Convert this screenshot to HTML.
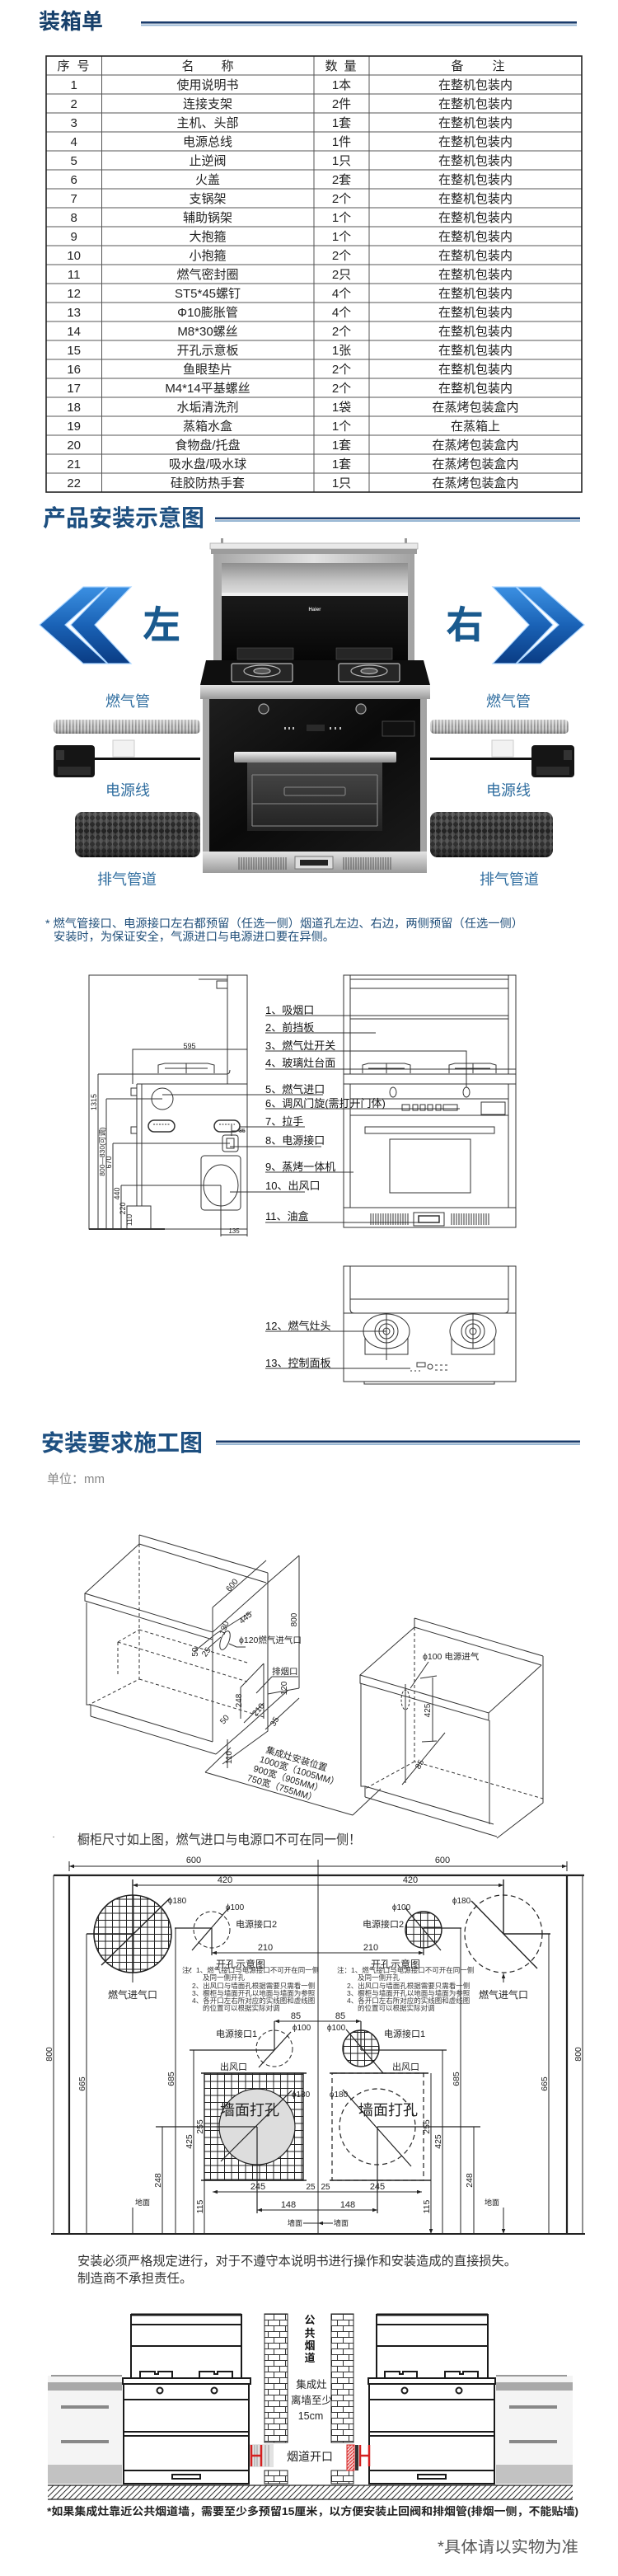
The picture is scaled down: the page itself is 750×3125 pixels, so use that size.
<!DOCTYPE html>
<html><head><meta charset="utf-8">
<style>
html,body{margin:0;padding:0;background:#fff;}
svg{display:block;}
text{font-family:"Liberation Sans","Noto Sans CJK SC",sans-serif;}
</style></head>
<body>
<svg width="750" height="3125" viewBox="0 0 750 3125" xmlns="http://www.w3.org/2000/svg">
<defs>
<marker id="ar" viewBox="0 0 8 6" refX="8" refY="3" markerWidth="6" markerHeight="4.5" markerUnits="userSpaceOnUse" orient="auto-start-reverse"><path d="M0,0L8,3L0,6z" fill="#222"/></marker>
<pattern id="grid" width="8.5" height="8.5" patternUnits="userSpaceOnUse"><rect width="8.5" height="8.5" fill="#fff"/><path d="M0 0.5H8.5M0.5 0V8.5" stroke="#222" stroke-width="1"/></pattern>
<pattern id="brick" width="14" height="14" patternUnits="userSpaceOnUse"><rect width="14" height="14" fill="#fff"/><path d="M0 0.5H14M0 7.5H14M3.5 0V7M10.5 7V14" stroke="#333" stroke-width="1"/></pattern>
<pattern id="diag" width="7" height="7" patternUnits="userSpaceOnUse"><rect width="7" height="7" fill="#fff"/><path d="M0 7L7 0M-1 1L1 -1M6 8L8 6" stroke="#333" stroke-width="1"/></pattern>
<pattern id="redh" width="4" height="4" patternUnits="userSpaceOnUse"><rect width="4" height="4" fill="#f4d0d0"/><path d="M0 4L4 0" stroke="#d22" stroke-width="1"/></pattern>
<pattern id="corr" width="4" height="20" patternUnits="userSpaceOnUse"><rect width="4" height="20" fill="#d2d2d2"/><rect width="1.6" height="20" fill="#8c8c8c"/></pattern>
<pattern id="duct" width="7" height="8" patternUnits="userSpaceOnUse"><rect width="7" height="8" fill="#161616"/><path d="M0 4L3.5 0L7 4L3.5 8Z" fill="#3c3c3c"/><path d="M3.5 0V8" stroke="#555" stroke-width="0.8"/></pattern>
<linearGradient id="cyl" x1="0" y1="0" x2="0" y2="1"><stop offset="0" stop-color="#fff" stop-opacity="0.15"/><stop offset="0.45" stop-color="#fff" stop-opacity="0.05"/><stop offset="1" stop-color="#000" stop-opacity="0.45"/></linearGradient>
<linearGradient id="cyl2" x1="0" y1="0" x2="0" y2="1"><stop offset="0" stop-color="#fff" stop-opacity="0.4"/><stop offset="0.5" stop-color="#fff" stop-opacity="0"/><stop offset="1" stop-color="#000" stop-opacity="0.3"/></linearGradient>
<linearGradient id="chev" x1="0" y1="0" x2="0" y2="1"><stop offset="0" stop-color="#3b90e2"/><stop offset="0.5" stop-color="#1a62b6"/><stop offset="1" stop-color="#0a3c84"/></linearGradient>
<linearGradient id="gSilver" x1="0" y1="0" x2="1" y2="0"><stop offset="0" stop-color="#a6a6a6"/><stop offset="0.5" stop-color="#e2e2e2"/><stop offset="1" stop-color="#a2a2a2"/></linearGradient>
<linearGradient id="gHood" x1="0" y1="0" x2="0" y2="1"><stop offset="0" stop-color="#8e8e8e"/><stop offset="0.6" stop-color="#c4c4c4"/><stop offset="1" stop-color="#dcdcdc"/></linearGradient>
<linearGradient id="gBlack" x1="0" y1="0" x2="0" y2="1"><stop offset="0" stop-color="#1a1a1a"/><stop offset="1" stop-color="#060606"/></linearGradient>
<linearGradient id="gApron" x1="0" y1="0" x2="0" y2="1"><stop offset="0" stop-color="#e4e4e4"/><stop offset="1" stop-color="#9a9a9a"/></linearGradient>
<linearGradient id="gDoor" x1="0" y1="0" x2="1" y2="1"><stop offset="0" stop-color="#1e1e1e"/><stop offset="0.5" stop-color="#0a0a0a"/><stop offset="1" stop-color="#1a1a1a"/></linearGradient>
<linearGradient id="gHandle" x1="0" y1="0" x2="0" y2="1"><stop offset="0" stop-color="#f2f2f2"/><stop offset="1" stop-color="#8d8d8d"/></linearGradient>
<linearGradient id="gWin" x1="0" y1="0" x2="0" y2="1"><stop offset="0" stop-color="#4a4a4a"/><stop offset="1" stop-color="#222"/></linearGradient>
</defs>

<!-- ============ 装箱单 ============ -->
<text x="47" y="35" font-size="26" font-weight="bold" fill="#17406b">装箱单</text>
<rect x="171" y="26" width="529" height="2.6" fill="#1a3c6c"/>
<rect x="171" y="29.6" width="529" height="1.8" fill="#8fb0d0"/>

<g stroke="#555" stroke-width="1" fill="none">
<path d="M56 91H706M56 114H706M56 137H706M56 160H706M56 183H706M56 206H706M56 229H706M56 252H706M56 275H706M56 298H706M56 321H706M56 344H706M56 367H706M56 390H706M56 413H706M56 436H706M56 459H706M56 482H706M56 505H706M56 528H706M56 551H706M56 574H706"/>
<path d="M123.5 68V597M381 68V597M448 68V597"/>
</g>
<rect x="56" y="68" width="650" height="529" fill="none" stroke="#222" stroke-width="1.6"/>

<g font-size="15" fill="#222" text-anchor="middle">
<text x="77" y="85">序</text><text x="101" y="85">号</text>
<text x="228" y="85">名</text><text x="276" y="85">称</text>
<text x="402" y="85">数</text><text x="425" y="85">量</text>
<text x="555" y="85">备</text><text x="605" y="85">注</text>

<text x="89.7" y="108">1</text><text x="252" y="108">使用说明书</text><text x="414.5" y="108">1本</text><text x="577" y="108">在整机包装内</text>
<text x="89.7" y="131">2</text><text x="252" y="131">连接支架</text><text x="414.5" y="131">2件</text><text x="577" y="131">在整机包装内</text>
<text x="89.7" y="154">3</text><text x="252" y="154">主机、头部</text><text x="414.5" y="154">1套</text><text x="577" y="154">在整机包装内</text>
<text x="89.7" y="177">4</text><text x="252" y="177">电源总线</text><text x="414.5" y="177">1件</text><text x="577" y="177">在整机包装内</text>
<text x="89.7" y="200">5</text><text x="252" y="200">止逆阀</text><text x="414.5" y="200">1只</text><text x="577" y="200">在整机包装内</text>
<text x="89.7" y="223">6</text><text x="252" y="223">火盖</text><text x="414.5" y="223">2套</text><text x="577" y="223">在整机包装内</text>
<text x="89.7" y="246">7</text><text x="252" y="246">支锅架</text><text x="414.5" y="246">2个</text><text x="577" y="246">在整机包装内</text>
<text x="89.7" y="269">8</text><text x="252" y="269">辅助锅架</text><text x="414.5" y="269">1个</text><text x="577" y="269">在整机包装内</text>
<text x="89.7" y="292">9</text><text x="252" y="292">大抱箍</text><text x="414.5" y="292">1个</text><text x="577" y="292">在整机包装内</text>
<text x="89.7" y="315">10</text><text x="252" y="315">小抱箍</text><text x="414.5" y="315">2个</text><text x="577" y="315">在整机包装内</text>
<text x="89.7" y="338">11</text><text x="252" y="338">燃气密封圈</text><text x="414.5" y="338">2只</text><text x="577" y="338">在整机包装内</text>
<text x="89.7" y="361">12</text><text x="252" y="361">ST5*45螺钉</text><text x="414.5" y="361">4个</text><text x="577" y="361">在整机包装内</text>
<text x="89.7" y="384">13</text><text x="252" y="384">Φ10膨胀管</text><text x="414.5" y="384">4个</text><text x="577" y="384">在整机包装内</text>
<text x="89.7" y="407">14</text><text x="252" y="407">M8*30螺丝</text><text x="414.5" y="407">2个</text><text x="577" y="407">在整机包装内</text>
<text x="89.7" y="430">15</text><text x="252" y="430">开孔示意板</text><text x="414.5" y="430">1张</text><text x="577" y="430">在整机包装内</text>
<text x="89.7" y="453">16</text><text x="252" y="453">鱼眼垫片</text><text x="414.5" y="453">2个</text><text x="577" y="453">在整机包装内</text>
<text x="89.7" y="476">17</text><text x="252" y="476">M4*14平基螺丝</text><text x="414.5" y="476">2个</text><text x="577" y="476">在整机包装内</text>
<text x="89.7" y="499">18</text><text x="252" y="499">水垢清洗剂</text><text x="414.5" y="499">1袋</text><text x="577" y="499">在蒸烤包装盒内</text>
<text x="89.7" y="522">19</text><text x="252" y="522">蒸箱水盒</text><text x="414.5" y="522">1个</text><text x="577" y="522">在蒸箱上</text>
<text x="89.7" y="545">20</text><text x="252" y="545">食物盘/托盘</text><text x="414.5" y="545">1套</text><text x="577" y="545">在蒸烤包装盒内</text>
<text x="89.7" y="568">21</text><text x="252" y="568">吸水盘/吸水球</text><text x="414.5" y="568">1套</text><text x="577" y="568">在蒸烤包装盒内</text>
<text x="89.7" y="591">22</text><text x="252" y="591">硅胶防热手套</text><text x="414.5" y="591">1只</text><text x="577" y="591">在蒸烤包装盒内</text>
</g>

<!-- ============ 产品安装示意图 ============ -->
<text x="52" y="638" font-size="28" font-weight="bold" fill="#1d4f80">产品安装示意图</text>
<rect x="261" y="627.5" width="443" height="2.6" fill="#1a3c6c"/>
<rect x="261" y="631.1" width="443" height="1.8" fill="#8fb0d0"/>

<!-- chevrons left -->
<g stroke="#a8d4ff" stroke-width="1.2" fill="url(#chev)">
<polygon points="48,758 101,712 130,712 79,758 130,805 101,805"/>
<polygon points="86,758 131,712 159,712 115,758 159,805 131,805"/>
</g>
<g transform="translate(757,0) scale(-1,1)" stroke="#a8d4ff" stroke-width="1.2" fill="url(#chev)">
<polygon points="48,758 101,712 130,712 79,758 130,805 101,805"/>
<polygon points="86,758 131,712 159,712 115,758 159,805 131,805"/>
</g>
<text x="196" y="774" font-size="46" font-weight="bold" fill="#1a5a8e" text-anchor="middle">左</text>
<text x="564" y="774" font-size="46" font-weight="bold" fill="#1a5a8e" text-anchor="middle">右</text>

<!-- stove -->
<rect x="268" y="653" width="3" height="8" fill="#999"/>
<rect x="491" y="653" width="3" height="8" fill="#999"/>
<rect x="255" y="659" width="252" height="7" fill="#e9e9e9" stroke="#aaa" stroke-width="0.8"/>
<rect x="256" y="666" width="250" height="6" fill="#9c9c9c"/>
<rect x="259" y="672" width="244" height="129" fill="url(#gSilver)"/>
<rect x="269" y="683" width="226" height="36" fill="url(#gHood)"/>
<rect x="269" y="719" width="226" height="4" fill="#f0f0f0"/>
<rect x="269" y="723" width="226" height="78" fill="url(#gBlack)"/>
<text x="382" y="741" font-size="6" font-weight="bold" fill="#ddd" text-anchor="middle">Haier</text>
<rect x="288" y="786" width="68" height="14" fill="#262626" stroke="#555" stroke-width="0.6"/>
<rect x="408" y="786" width="68" height="14" fill="#262626" stroke="#555" stroke-width="0.6"/>
<polygon points="250,801 514,801 522,831 243,831" fill="#0f0f0f"/>
<rect x="243" y="831" width="279" height="17" fill="url(#gApron)"/>
<g stroke="#bbb" stroke-width="1.2" fill="#262626">
<rect x="281" y="805" width="74" height="22" rx="2"/>
<rect x="411" y="805" width="74" height="22" rx="2"/>
<ellipse cx="318" cy="814" rx="22" ry="7"/>
<ellipse cx="448" cy="814" rx="22" ry="7"/>
<ellipse cx="318" cy="814" rx="10" ry="3.5" fill="#555"/>
<ellipse cx="448" cy="814" rx="10" ry="3.5" fill="#555"/>
</g>
<rect x="246" y="848" width="272" height="211" fill="url(#gSilver)"/>
<rect x="254" y="848" width="256" height="185" fill="url(#gDoor)"/>
<circle cx="320" cy="860" r="6" fill="#333" stroke="#aaa" stroke-width="1.2"/>
<circle cx="438" cy="860" r="6" fill="#333" stroke="#aaa" stroke-width="1.2"/>
<g fill="#bbb">
<rect x="345" y="882" width="2" height="3"/><rect x="350" y="882" width="2" height="3"/><rect x="355" y="882" width="2" height="3"/>
<rect x="372" y="879" width="22" height="8" fill="#2a2a2a"/>
<rect x="400" y="882" width="2" height="3"/><rect x="406" y="882" width="2" height="3"/><rect x="412" y="882" width="2" height="3"/>
</g>
<rect x="464" y="875" width="39" height="18" fill="#111" stroke="#555" stroke-width="0.8"/>
<rect x="284" y="912" width="197" height="13" rx="2" fill="url(#gHandle)"/>
<rect x="300" y="925" width="164" height="83" fill="url(#gWin)"/>
<g stroke="#7a7a7a" stroke-width="1.3" fill="none">
<path d="M306 940H458M306 975H458M306 1002H458M306 940V1002M458 940V1002"/>
<rect x="345" y="955" width="74" height="10" rx="2"/>
</g>
<rect x="246" y="1033" width="272" height="26" fill="url(#gApron)"/>
<g stroke="#555" stroke-width="1">
<path d="M290 1040V1055M293 1040V1055M296 1040V1055M299 1040V1055M302 1040V1055M305 1040V1055M308 1040V1055M311 1040V1055M314 1040V1055M317 1040V1055M320 1040V1055M323 1040V1055M326 1040V1055M329 1040V1055M332 1040V1055M335 1040V1055M338 1040V1055M341 1040V1055M344 1040V1055M347 1040V1055"/>
<path d="M417 1040V1055M420 1040V1055M423 1040V1055M426 1040V1055M429 1040V1055M432 1040V1055M435 1040V1055M438 1040V1055M441 1040V1055M444 1040V1055M447 1040V1055M450 1040V1055M453 1040V1055M456 1040V1055M459 1040V1055M462 1040V1055M465 1040V1055M468 1040V1055M471 1040V1055M474 1040V1055"/>
</g>
<rect x="358" y="1039" width="46" height="15" fill="#ddd" stroke="#777"/>
<rect x="364" y="1043" width="34" height="7" fill="#222"/>

<!-- labels & accessories -->
<g font-size="18" fill="#2f6d9f" text-anchor="middle">
<text x="155" y="857">燃气管</text><text x="617" y="857">燃气管</text>
<text x="155" y="965">电源线</text><text x="617" y="965">电源线</text>
<text x="154" y="1073">排气管道</text><text x="618" y="1073">排气管道</text>
</g>
<rect x="65" y="873" width="178" height="17" rx="5" fill="url(#corr)"/>
<rect x="65" y="873" width="178" height="17" rx="5" fill="url(#cyl2)"/>
<rect x="522" y="873" width="168" height="17" rx="5" fill="url(#corr)"/>
<rect x="522" y="873" width="168" height="17" rx="5" fill="url(#cyl2)"/>
<rect x="137" y="898" width="26" height="20" fill="#f2f2f2" stroke="#ccc"/>
<rect x="597" y="898" width="26" height="20" fill="#f2f2f2" stroke="#ccc"/>
<rect x="113" y="919" width="130" height="3" fill="#111"/>
<rect x="522" y="919" width="125" height="3" fill="#111"/>
<rect x="65" y="904" width="50" height="39" rx="4" fill="#151515"/>
<rect x="70" y="930" width="40" height="10" fill="#2c2c2c"/>
<rect x="68" y="910" width="10" height="12" fill="#333"/>
<rect x="645" y="904" width="52" height="39" rx="4" fill="#151515"/>
<rect x="651" y="930" width="40" height="10" fill="#2c2c2c"/>
<rect x="684" y="910" width="10" height="12" fill="#333"/>
<rect x="91" y="985" width="152" height="55" rx="9" fill="url(#duct)"/>
<rect x="91" y="985" width="152" height="55" rx="9" fill="url(#cyl)"/>
<rect x="522" y="985" width="149" height="55" rx="9" fill="url(#duct)"/>
<rect x="522" y="985" width="149" height="55" rx="9" fill="url(#cyl)"/>

<text x="55" y="1125" font-size="14" fill="#1f4e79" textLength="580" lengthAdjust="spacingAndGlyphs">* 燃气管接口、电源接口左右都预留（任选一侧）烟道孔左边、右边，两侧预留（任选一侧）</text>
<text x="65" y="1141" font-size="14" fill="#1f4e79" textLength="341" lengthAdjust="spacingAndGlyphs">安装时，为保证安全，气源进口与电源进口要在异侧。</text>

<!-- ============ technical drawing ============ -->
<g fill="none" stroke="#333" stroke-width="1">
<!-- left side view -->
<rect x="108" y="1183" width="192" height="308"/>
<path d="M276 1183V1315M241 1188H276"/>
<rect x="263" y="1190" width="13" height="9"/>
<path d="M161 1315V1273H300"/>
<path d="M192 1302V1292L200 1290H252L260 1292V1302M200 1296H252M226 1290V1302"/>
<path d="M119 1303H275Q279 1303 279 1298"/>
<path d="M166 1315H300M166 1315V1463M172 1315V1463"/>
<rect x="159" y="1320" width="7" height="9"/>
<rect x="159" y="1367" width="7" height="8"/>
<circle cx="197" cy="1333" r="13"/>
<rect x="180" y="1359" width="32" height="14" rx="7" stroke-width="1.5"/>
<rect x="260" y="1359" width="31" height="14" rx="7" stroke-width="1.5"/>
<path d="M186 1364H206M266 1364H285" stroke-dasharray="2 1.5"/>
<rect x="270" y="1377" width="19" height="20" rx="3"/>
<rect x="275" y="1381" width="9" height="12"/>
<rect x="244" y="1402" width="48" height="66" rx="4"/>
<ellipse cx="268" cy="1438" rx="21" ry="25"/>
<path d="M154 1491V1463H183V1491"/>
<path d="M108 1491H200" stroke-width="2"/>
<path d="M119 1303V1491M129 1333V1491M137 1387V1491M147 1438V1491M129 1333H197M137 1387H279M147 1438H268M268 1438V1500M300 1491V1500M268 1498H300M281 1365V1378M281 1372H297"/>
<!-- labels leader lines -->
<path d="M322 1232H456M322 1253H456M322 1275H566V1319M322 1297H433M197 1328H392M322 1345H558M291 1367H370M279 1391H390M322 1422H429M279 1446H370M322 1483H514"/>
<!-- right front view -->
<rect x="417" y="1183" width="209" height="306"/>
<path d="M425 1183V1303M617 1183V1303M425 1315V1465M617 1315V1465"/>
<path d="M425 1188H617M425 1199H617M425 1232H617M425 1236H617M417 1297H626M417 1303H626M417 1315H626M425 1333H617M425 1353H617M417 1465H626"/>
<path d="M440 1302V1292L447 1290H491L498 1292V1302M447 1296H491M469 1290V1302"/>
<path d="M545 1302V1292L552 1290H595L602 1292V1302M552 1296H595M574 1290V1302"/>
<ellipse cx="477" cy="1325" rx="4" ry="6"/>
<ellipse cx="566" cy="1325" rx="4" ry="6"/>
<path d="M488 1340h9v7h-9zM501 1340h6v7h-6zM510 1340h6v7h-6zM519 1340h6v7h-6zM529 1340h6v7h-6zM538 1340h17v7h-17z"/>
<rect x="584" y="1337" width="29" height="15"/>
<rect x="443" y="1367" width="157" height="8"/>
<rect x="473" y="1382" width="98" height="65"/>
<path d="M450 1472V1486M453 1472V1486M456 1472V1486M459 1472V1486M462 1472V1486M465 1472V1486M468 1472V1486M471 1472V1486M474 1472V1486M477 1472V1486M480 1472V1486M483 1472V1486M486 1472V1486M489 1472V1486M492 1472V1486M495 1472V1486"/>
<path d="M548 1472V1486M551 1472V1486M554 1472V1486M557 1472V1486M560 1472V1486M563 1472V1486M566 1472V1486M569 1472V1486M572 1472V1486M575 1472V1486M578 1472V1486M581 1472V1486M584 1472V1486M587 1472V1486M590 1472V1486M593 1472V1486"/>
<rect x="502" y="1471" width="37" height="16"/>
<rect x="508" y="1475" width="25" height="8" stroke-width="1.5"/>
<!-- top view -->
<rect x="417" y="1536" width="209" height="140"/>
<path d="M425 1536V1588Q425 1593 430 1593M617 1536V1588Q617 1593 612 1593M425 1576H617M417 1593H626"/>
<rect x="443" y="1612" width="52" height="31"/>
<rect x="548" y="1612" width="52" height="31"/>
<ellipse cx="469" cy="1615" rx="28" ry="21" fill="#fff"/>
<ellipse cx="574" cy="1615" rx="28" ry="21" fill="#fff"/>
<circle cx="469" cy="1615" r="14"/><circle cx="574" cy="1615" r="14"/>
<circle cx="469" cy="1615" r="9"/><circle cx="574" cy="1615" r="9"/>
<circle cx="469" cy="1615" r="4"/><circle cx="574" cy="1615" r="4"/>
<path d="M469 1594V1650M574 1594V1636"/>
<rect x="506" y="1653" width="10" height="5"/>
<circle cx="522" cy="1658" r="3"/>
<path d="M498 1663h2M503 1663h2M508 1663h2M528 1656h3M534 1656h3M540 1656h3M528 1662h3M534 1662h3M540 1662h3"/>
<rect x="442" y="1676" width="158" height="3"/>
<path d="M322 1615H469M322 1660H498"/>
</g>
<g font-size="9" fill="#222">
<text x="230" y="1272" text-anchor="middle">595</text>
<text x="284" y="1496" font-size="8" text-anchor="middle">135</text>
<text x="290" y="1374" font-size="7">85</text>
<text transform="translate(117,1337) rotate(-90)" text-anchor="middle">1315</text>
<text transform="translate(127,1397) rotate(-90)" text-anchor="middle" font-size="8.5">800—830(可调)</text>
<text transform="translate(135,1410) rotate(-90)" text-anchor="middle">670</text>
<text transform="translate(145,1448) rotate(-90)" text-anchor="middle">440</text>
<text transform="translate(152,1466) rotate(-90)" text-anchor="middle">220</text>
<text transform="translate(160,1480) rotate(-90)" text-anchor="middle">110</text>
</g>
<g font-size="13" fill="#111">
<text x="322" y="1230">1、吸烟口</text>
<text x="322" y="1251">2、前挡板</text>
<text x="322" y="1273">3、燃气灶开关</text>
<text x="322" y="1294">4、玻璃灶台面</text>
<text x="322" y="1326">5、燃气进口</text>
<text x="322" y="1343">6、调风门旋(需打开门体)</text>
<text x="322" y="1365">7、拉手</text>
<text x="322" y="1388">8、电源接口</text>
<text x="322" y="1420">9、蒸烤一体机</text>
<text x="322" y="1443">10、出风口</text>
<text x="322" y="1480">11、油盒</text>
<text x="322" y="1613">12、燃气灶头</text>
<text x="322" y="1658">13、控制面板</text>
</g>

<!-- ============ 安装要求施工图 ============ -->
<text x="50" y="1760" font-size="28" font-weight="bold" fill="#1d4f80">安装要求施工图</text>
<rect x="262" y="1747.5" width="442" height="2.6" fill="#1a3c6c"/>
<rect x="262" y="1751.1" width="442" height="1.8" fill="#8fb0d0"/>
<text x="57" y="1799" font-size="15" fill="#888">单位：mm</text>

<!-- iso left cabinet -->
<g fill="none" stroke="#333" stroke-width="1">
<path d="M169 1862L325 1908M169 1873L323 1920M169 1862V1873M325 1908V1920"/>
<path d="M169 1873L103 1933L258 1980L325 1920M103 1933V1942L258 1989V1980"/>
<path d="M105 1944V2068H110V2082M110 2068L258 2113M110 2082L262 2128M258 1989V2113M325 1920V2100L270 2140"/>
<path d="M169 1873V2037L108 2068M169 2037L320 2083M143 1992L169 1977M143 1992V2033M143 1992L300 2040M169 1977L300 2017" stroke-dasharray="4 3"/>
<path d="M292 2047L320 2018M292 2047V2085M320 2018V2085M296 2090L320 2066"/>
<path d="M258 1950L323 1893M258 1950V1989M262 1982L305 1955M363 1887V2048M325 1920L363 1887M325 2055L363 2048M235 2004L262 1982M252 2000L268 1986"/>
<path d="M300 2095L350 2050M322 2098L363 2060M262 2128L300 2095M249 2150L428 2202M249 2150L280 2120M428 2202L462 2170M276 2110V2145"/>
<ellipse cx="273" cy="1990" rx="5" ry="12" transform="rotate(20 273 1990)"/>
<path d="M278 1994L287 1998H298M330 2034H362M330 2034L311 2054"/>
</g>
<g font-size="10" fill="#222">
<text transform="translate(284,1925) rotate(-50)" text-anchor="middle">600</text>
<text transform="translate(300,1965) rotate(-40)" text-anchor="middle">445</text>
<text transform="translate(360,1965) rotate(-90)" text-anchor="middle">800</text>
<text transform="translate(275,1976) rotate(-70)" text-anchor="middle">130</text>
<text x="290" y="1993" font-size="10.5">ϕ120燃气进气口</text>
<text transform="translate(240,2004) rotate(-90)" text-anchor="middle">50</text>
<text transform="translate(253,2006) rotate(-55)" text-anchor="middle">25</text>
<text x="330" y="2031" font-size="10.5">排烟口</text>
<text transform="translate(293,2063) rotate(-90)" text-anchor="middle">248</text>
<text transform="translate(316,2076) rotate(-50)" text-anchor="middle">210</text>
<text transform="translate(348,2048) rotate(-90)" text-anchor="middle">120</text>
<text transform="translate(275,2088) rotate(-50)" text-anchor="middle">50</text>
<text transform="translate(336,2090) rotate(-60)" text-anchor="middle">35</text>
<text transform="translate(281,2132) rotate(-90)" text-anchor="middle">110</text>
<g transform="translate(322,2126) rotate(17)" font-size="11">
<text x="0" y="0">集成灶安装位置</text>
<text x="-4" y="13">1000宽（1005MM）</text>
<text x="-8" y="26">900宽（905MM）</text>
<text x="-12" y="39">750宽（755MM）</text>
</g>
</g>

<!-- iso right cabinet -->
<g fill="none" stroke="#333" stroke-width="1">
<path d="M503 1963L659 2009M503 1974L657 2020M503 1963V1974M659 2009V2020"/>
<path d="M503 1974L437 2032L593 2078L657 2020M437 2032V2042L593 2087V2078"/>
<path d="M438 2042V2167H443V2180M443 2167L599 2213M443 2180L603 2228M594 2087V2213M659 2020V2187L603 2230"/>
<path d="M503 1974V2137L659 2182M503 2137L443 2170" stroke-dasharray="4 3"/>
<path d="M525 2035V2113M510 2036L530 2033M512 2113L530 2112M488 2165L540 2102M492 2043V2163M520 2016L498 2048"/>
<ellipse cx="492" cy="2062" rx="5" ry="12" stroke-dasharray="3 2"/>
</g>
<g font-size="10" fill="#222">
<text x="513" y="2013" font-size="10.5">ϕ100 电源进气</text>
<text transform="translate(522,2075) rotate(-90)" text-anchor="middle">425</text>
<text transform="translate(512,2142) rotate(-60)" text-anchor="middle">85</text>
</g>

<text x="94" y="2237" font-size="16" fill="#333" textLength="344" lengthAdjust="spacingAndGlyphs">橱柜尺寸如上图，燃气进口与电源口不可在同一侧！</text>

<!-- ============ cabinet hole layout ============ -->
<g fill="none" stroke="#222" stroke-width="1">
<path d="M84 2264H386M386 2264H688" marker-start="url(#ar)" marker-end="url(#ar)"/>
<path d="M84 2258V2270M688 2258V2270"/>
<path d="M65 2275H709" stroke-width="2.2"/>
<path d="M84 2275V2710M688 2275V2710" stroke-width="2.2"/>
<path d="M386 2256V2710"/>
<path d="M62 2710H710" stroke-width="2"/>
<path d="M65 2228V2229"/>
<!-- outer verticals -->
<path d="M65 2275V2710M707 2275V2710M105 2346V2710M666 2346V2710M197 2580V2710M575 2580V2710M213 2339V2710M559 2339V2710M235 2487V2710M537 2487V2710M248 2645V2710M523 2645V2710" marker-end="url(#ar)"/>
<path d="M248 2515V2645M523 2515V2645"/>
<!-- 420 / 210 / 85 / 245 / 148 dims -->
<path d="M161 2287H386M386 2287H611" marker-start="url(#ar)" marker-end="url(#ar)"/>
<path d="M257 2369H386M386 2369H514" marker-start="url(#ar)" marker-end="url(#ar)"/>
<path d="M333 2452H386M386 2452H438" marker-start="url(#ar)" marker-end="url(#ar)"/>
<path d="M258 2659H368M368 2659H386M386 2659H403M403 2659H512" marker-start="url(#ar)" marker-end="url(#ar)"/>
<path d="M312 2681H386M386 2681H458" marker-start="url(#ar)" marker-end="url(#ar)"/>
<path d="M368 2697H386M404 2697H386" marker-end="url(#ar)"/>
<path d="M161 2678V2710M611 2678V2710" marker-end="url(#ar)"/>
<path d="M161 2405V2394M611 2405V2394" marker-end="url(#ar)"/>
<!-- left top -->
<circle cx="161" cy="2346" r="47" fill="url(#grid)" stroke-width="1.6"/>
<path d="M161 2280V2394M105 2346H161M123 2384L206 2303" stroke-width="1.4"/>
<circle cx="257" cy="2341" r="22" stroke-dasharray="5 3"/>
<path d="M212 2339H257M257 2339V2372M233 2366L278 2314" stroke-width="1.2"/>
<!-- right top -->
<circle cx="611" cy="2346" r="47" stroke-dasharray="6 4" stroke-width="1.2"/>
<path d="M611 2280V2346M611 2346H668M572 2306L652 2388" stroke-width="1.4"/>
<circle cx="514" cy="2341" r="22" fill="url(#grid)" stroke-width="1.4"/>
<path d="M514 2339H560M514 2339V2372M492 2315L535 2366" stroke-width="1.2"/>
<!-- lower circles -->
<circle cx="333" cy="2485" r="22" stroke-dasharray="5 3"/>
<path d="M230 2487H333M333 2452V2487M314 2508L353 2465" stroke-width="1.2"/>
<circle cx="438" cy="2485" r="22" fill="url(#grid)" stroke-width="1.4"/>
<path d="M438 2487H542M438 2452V2487M420 2462L465 2515" stroke-width="1.2"/>
<!-- outlets -->
<rect x="248" y="2515" width="120" height="130" fill="url(#grid)" stroke-width="1.4"/>
<circle cx="312" cy="2580" r="46" fill="#ddd" stroke-width="1.2"/>
<path d="M268 2622L354 2536M312 2580V2685M189 2580H312" stroke-width="1.2"/>
<path d="M244 2515H372M244 2645H372" stroke-width="1.6"/>
<rect x="403" y="2515" width="111" height="130" stroke-dasharray="6 4" stroke-width="1.2"/>
<circle cx="458" cy="2580" r="46" stroke-dasharray="6 4" stroke-width="1.2"/>
<path d="M416 2535L499 2628M458 2580V2685M458 2580H583" stroke-width="1.2"/>
<path d="M400 2515H520M400 2645H523" stroke-width="1.4"/>
<path d="M229 2392L232 2387M256 2396V2396"/>
</g>
<g font-size="11" fill="#222" text-anchor="middle">
<text x="235" y="2260">600</text><text x="537" y="2260">600</text>
<text x="273" y="2284">420</text><text x="498" y="2284">420</text>
<text x="322" y="2366">210</text><text x="450" y="2366">210</text>
<text x="359" y="2449">85</text><text x="413" y="2449">85</text>
<text x="313" y="2656">245</text><text x="377" y="2656" font-size="10">25</text><text x="395" y="2656" font-size="10">25</text><text x="458" y="2656">245</text>
<text x="350" y="2678">148</text><text x="422" y="2678">148</text>
<text x="215" y="2309" font-size="10">ϕ180</text>
<text x="285" y="2317" font-size="10">ϕ100</text>
<text x="487" y="2317" font-size="10">ϕ100</text>
<text x="560" y="2309" font-size="10">ϕ180</text>
<text x="366" y="2463" font-size="10">ϕ100</text>
<text x="408" y="2463" font-size="10">ϕ100</text>
<text x="365" y="2544" font-size="10">ϕ180</text>
<text x="411" y="2544" font-size="10">ϕ180</text>
<text x="292" y="2387" font-size="12">开孔示意图</text>
<text x="480" y="2387" font-size="12">开孔示意图</text>
<text x="161" y="2424" font-size="12">燃气进气口</text>
<text x="611" y="2424" font-size="12">燃气进气口</text>
<text x="173" y="2675" font-size="9">地面</text>
<text x="597" y="2675" font-size="9">地面</text>
</g>
<g font-size="11" fill="#222">
<text x="286" y="2338">电源接口2</text>
<text x="440" y="2338">电源接口2</text>
<text x="262" y="2471">电源接口1</text>
<text x="466" y="2471">电源接口1</text>
<text x="267" y="2511">出风口</text>
<text x="476" y="2511">出风口</text>
<text x="349" y="2700" font-size="9">墙面</text>
<text x="405" y="2700" font-size="9">墙面</text>
</g>
<g font-size="18" fill="#222" text-anchor="middle">
<text x="303" y="2566">墙面打孔</text>
<text x="471" y="2566">墙面打孔</text>
</g>
<g font-size="8.5" fill="#333">
<text x="221" y="2393">注：1、燃气接口与电源接口不可开在同一侧</text>
<text x="246" y="2402">及同一侧开孔</text>
<text x="233" y="2412">2、出风口与墙面孔根据需要只需看一侧</text>
<text x="233" y="2421">3、橱柜与墙面开孔以地面与墙面为参照</text>
<text x="233" y="2430">4、各开口左右所对应的实线图和虚线图</text>
<text x="246" y="2439">的位置可以根据实际对调</text>
<text x="409" y="2393">注：1、燃气接口与电源接口不可开在同一侧</text>
<text x="434" y="2402">及同一侧开孔</text>
<text x="421" y="2412">2、出风口与墙面孔根据需要只需看一侧</text>
<text x="421" y="2421">3、橱柜与墙面开孔以地面与墙面为参照</text>
<text x="421" y="2430">4、各开口左右所对应的实线图和虚线图</text>
<text x="434" y="2439">的位置可以根据实际对调</text>
</g>
<g font-size="10.5" fill="#222" text-anchor="middle">
<text transform="translate(63,2492) rotate(-90)">800</text>
<text transform="translate(705,2492) rotate(-90)">800</text>
<text transform="translate(103,2528) rotate(-90)">665</text>
<text transform="translate(664,2528) rotate(-90)">665</text>
<text transform="translate(195,2645) rotate(-90)">248</text>
<text transform="translate(573,2645) rotate(-90)">248</text>
<text transform="translate(211,2522) rotate(-90)">685</text>
<text transform="translate(557,2522) rotate(-90)">685</text>
<text transform="translate(233,2598) rotate(-90)">425</text>
<text transform="translate(535,2598) rotate(-90)">425</text>
<text transform="translate(246,2580) rotate(-90)">255</text>
<text transform="translate(521,2580) rotate(-90)">255</text>
<text transform="translate(246,2677) rotate(-90)">115</text>
<text transform="translate(521,2677) rotate(-90)">115</text>
</g>

<text x="94" y="2748" font-size="15.5" fill="#333" textLength="533" lengthAdjust="spacingAndGlyphs">安装必须严格规定进行，对于不遵守本说明书进行操作和安装造成的直接损失。</text>
<text x="94" y="2769" font-size="15.5" fill="#333">制造商不承担责任。</text>

<!-- ============ bottom install diagram ============ -->
<!-- side cabinets -->
<rect x="58" y="2882" width="90" height="131" fill="#f4f4f4"/>
<rect x="62" y="2881" width="86" height="2" fill="#999"/>
<rect x="58" y="2890" width="90" height="10" fill="#a9a9a9"/>
<rect x="74" y="2918" width="58" height="4" fill="#888"/>
<rect x="74" y="2960" width="58" height="4" fill="#888"/>
<rect x="58" y="2990" width="90" height="23" fill="#c2c2c2"/>
<rect x="602" y="2882" width="93" height="131" fill="#f4f4f4"/>
<rect x="602" y="2881" width="86" height="2" fill="#999"/>
<rect x="602" y="2890" width="93" height="10" fill="#a9a9a9"/>
<rect x="618" y="2918" width="58" height="4" fill="#888"/>
<rect x="618" y="2960" width="58" height="4" fill="#888"/>
<rect x="602" y="2990" width="93" height="23" fill="#c2c2c2"/>

<!-- stoves -->
<g fill="#fff" stroke="#1a1a1a" stroke-width="2">
<rect x="159" y="2808" width="134" height="77"/>
<path d="M159 2820H293M159 2846H293"/>
<path d="M159 2808H293" stroke-width="3"/>
<rect x="149" y="2885" width="155" height="7"/>
<rect x="150" y="2892" width="152" height="121"/>
<path d="M150 2911H302M150 2950H302M150 2955H302M150 2997H302"/>
<rect x="209" y="3002" width="34" height="5"/>
<circle cx="194" cy="2900" r="3.5"/><circle cx="260" cy="2900" r="3.5"/>
<path d="M170 2885V2877H188V2880H192V2877H209V2885M242 2885V2877H260V2880H264V2877H282V2885" fill="none"/>

<rect x="457" y="2808" width="135" height="77"/>
<path d="M457 2820H592M457 2846H592"/>
<path d="M457 2808H592" stroke-width="3"/>
<rect x="447" y="2885" width="154" height="7"/>
<rect x="448" y="2892" width="152" height="121"/>
<path d="M448 2911H600M448 2950H600M448 2955H600M448 2997H600"/>
<rect x="507" y="3002" width="34" height="5"/>
<circle cx="491" cy="2900" r="3.5"/><circle cx="557" cy="2900" r="3.5"/>
<path d="M467 2885V2877H485V2880H489V2877H506V2885M540 2885V2877H558V2880H562V2877H580V2885" fill="none"/>
</g>

<!-- flue walls -->
<rect x="321" y="2807" width="28" height="156" fill="url(#brick)" stroke="#222"/>
<rect x="321" y="2997" width="28" height="16" fill="url(#brick)" stroke="#222"/>
<rect x="402" y="2807" width="27" height="156" fill="url(#brick)" stroke="#222"/>
<rect x="402" y="2997" width="27" height="16" fill="url(#brick)" stroke="#222"/>
<rect x="303" y="2965" width="29" height="28" fill="#e2e2e2"/>
<path d="M309 2966V2992M312 2966V2992M322 2966V2992M326 2966V2992" stroke="#999"/>
<path d="M305 2966V2992M317 2966V2992M305 2979H317" stroke="#d42020" stroke-width="2.5"/>
<rect x="421" y="2966" width="9" height="31" fill="url(#redh)" stroke="#d42020"/>
<rect x="431" y="2966" width="4" height="31" fill="#333"/>
<path d="M437 2966V2992M448 2966V2992M437 2979H448" stroke="#d42020" stroke-width="2.5"/>

<g font-size="13" font-weight="bold" fill="#111" text-anchor="middle">
<text x="376" y="2819">公</text>
<text x="376" y="2835">共</text>
<text x="376" y="2850">烟</text>
<text x="376" y="2865">道</text>
</g>
<g font-size="12.5" fill="#222" text-anchor="middle">
<text x="378" y="2897">集成灶</text>
<text x="378" y="2916">离墙至少</text>
<text x="377" y="2935">15cm</text>
<text x="376" y="2985" font-size="14">烟道开口</text>
</g>

<rect x="58" y="3015" width="637" height="17" fill="url(#diag)"/>
<path d="M58 3015H695M58 3032H695" stroke="#222" stroke-width="1.2"/>

<text x="57" y="3051" font-size="13" font-weight="bold" fill="#222" textLength="645" lengthAdjust="spacingAndGlyphs">*如果集成灶靠近公共烟道墙，需要至少多预留15厘米，以方便安装止回阀和排烟管(排烟一侧，不能贴墙)</text>
<text x="531" y="3096" font-size="19" fill="#555" textLength="171" lengthAdjust="spacingAndGlyphs">*具体请以实物为准</text>
</svg>
</body></html>
